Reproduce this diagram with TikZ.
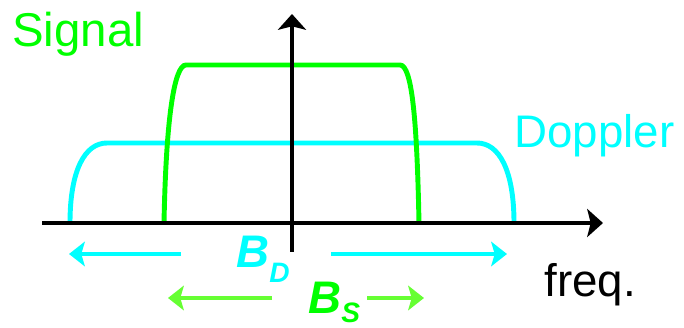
\documentclass[tikz,border=0pt]{standalone}
\usepackage{fontspec}
\setmainfont{Liberation Sans}
\usetikzlibrary{arrows.meta}
\definecolor{siggreen}{RGB}{0,255,0}
\definecolor{arrgreen}{RGB}{102,255,51}
\definecolor{dopcyan}{RGB}{0,255,255}

\begin{document}
\begin{tikzpicture}[x=0.02cm, y=0.02cm,
  axis/.style={-{Stealth[length=9pt, width=16pt, inset=2pt]}, line width=2.6pt, black},
  spec/.style={line width=2.8pt},
  barr/.style={-{Stealth[length=9pt, width=14pt, inset=2pt]}, line width=1.8pt},
  lbl/.style={anchor=base west, inner sep=0pt, font=\fontsize{26}{30}\selectfont},
  bw/.style={anchor=base west, inner sep=0pt, font=\fontsize{26}{30}\selectfont\bfseries\itshape}
]
\useasboundingbox (0,0) rectangle (684,328);
% spectra
\draw[spec, dopcyan] (70,105) .. controls (70,158) and (85,185) .. (107,185)
  -- (477,185) .. controls (499,185) and (514,158) .. (514,105);
\draw[spec, siggreen] (164,105) .. controls (166,208) and (174,263) .. (186,263)
  -- (400,263) .. controls (412,263) and (417,208) .. (419,105);
% axes
\coordinate (xa) at (42,105);
\coordinate (xb) at (603,105);
\coordinate (ya) at (292,76);
\coordinate (yb) at (292,314);
\draw[axis] (xa) -- (xb);
\draw[axis] (ya) -- (yb);
% labels
\node[lbl, text=siggreen, font=\fontsize{27}{30}\selectfont] (sig) at (12,281) {Signal};
\node[lbl, text=dopcyan] (dop) at (514,180) {Doppler};
\node[lbl] (frq) at (544,31) {freq.};
\node[bw, text=dopcyan] (BD) at (236,60)
  {B\raisebox{-8pt}{\fontsize{16}{16}\selectfont D}};
\node[bw, text=siggreen] (BS) at (308,14)
  {B\raisebox{-5pt}{\fontsize{16}{16}\selectfont S}};
% bandwidth arrows
\coordinate (dl0) at (181,74);
\coordinate (dl1) at (69,74);
\coordinate (dr0) at (331,74);
\coordinate (dr1) at (507,74);
\coordinate (sl0) at (272,30);
\coordinate (sl1) at (168,30);
\coordinate (sr0) at (367,30);
\coordinate (sr1) at (424,30);
\draw[barr, dopcyan] (dl0) -- (dl1);
\draw[barr, dopcyan] (dr0) -- (dr1);
\draw[barr, arrgreen] (sl0) -- (sl1);
\draw[barr, arrgreen] (sr0) -- (sr1);
\end{tikzpicture}
\end{document}
